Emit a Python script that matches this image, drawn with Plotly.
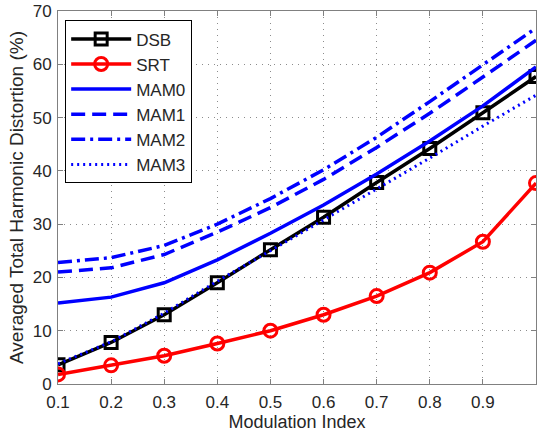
import plotly.graph_objects as go

mod_index = [0.1, 0.2, 0.3, 0.4, 0.5, 0.6, 0.7, 0.8, 0.9, 1.0]
dsb = [3.6, 7.8, 13.0, 19.0, 25.2, 31.3, 37.8, 44.2, 50.9, 57.7]
srt = [1.8, 3.5, 5.3, 7.6, 10.0, 13.0, 16.5, 20.9, 26.7, 37.7]
mam0 = [15.2, 16.3, 19.0, 23.3, 28.3, 33.6, 39.4, 45.6, 52.2, 59.5]
mam1 = [21.0, 21.8, 24.3, 28.5, 33.1, 38.4, 44.4, 50.8, 57.6, 64.5]
mam2 = [22.8, 23.7, 26.0, 30.0, 34.8, 40.2, 46.3, 53.0, 59.9, 66.8]
mam3 = [3.8, 7.9, 13.3, 19.3, 25.0, 30.8, 36.6, 42.4, 48.4, 54.2]

x_ticks = [0.1, 0.2, 0.3, 0.4, 0.5, 0.6, 0.7, 0.8, 0.9]
x_tick_labels = ["0.1", "0.2", "0.3", "0.4", "0.5", "0.6", "0.7", "0.8", "0.9"]
y_ticks = [0, 10, 20, 30, 40, 50, 60, 70]

FONT = "Liberation Sans, Arial, sans-serif"

fig = go.Figure()
fig.add_trace(go.Scatter(x=mod_index, y=dsb, name="DSB", mode="lines+markers",
                         line=dict(color="black", width=3.5),
                         marker=dict(symbol="square-open", size=12, color="black",
                                     line=dict(width=3, color="black"))))
fig.add_trace(go.Scatter(x=mod_index, y=srt, name="SRT", mode="lines+markers",
                         line=dict(color="#ff0000", width=3.5),
                         marker=dict(symbol="circle-open", size=13, color="#ff0000",
                                     line=dict(width=3, color="#ff0000"))))
fig.add_trace(go.Scatter(x=mod_index, y=mam0, name="MAM0", mode="lines",
                         line=dict(color="#0000ff", width=3.5)))
fig.add_trace(go.Scatter(x=mod_index, y=mam1, name="MAM1", mode="lines",
                         line=dict(color="#0000ff", width=3.5, dash="14px,7px")))
fig.add_trace(go.Scatter(x=mod_index, y=mam2, name="MAM2", mode="lines",
                         line=dict(color="#0000ff", width=3.5, dash="14px,5px,3px,5px")))
fig.add_trace(go.Scatter(x=mod_index, y=mam3, name="MAM3", mode="lines",
                         line=dict(color="#0000ff", width=3, dash="2px,4px")))

axis_common = dict(
    showline=True, linecolor="#808080", linewidth=1, mirror="ticks",
    ticks="inside", ticklen=5, tickcolor="#808080",
    showgrid=True, gridcolor="#8c8c8c", griddash="1px,5px", gridwidth=1,
    zeroline=False, automargin=False,
    tickfont=dict(family=FONT, size=17, color="#262626"),
)

fig.update_layout(
    width=538, height=438,
    margin=dict(l=58, r=2, t=11, b=54),
    paper_bgcolor="white", plot_bgcolor="white",
    font=dict(family=FONT, color="#262626"),
    xaxis=dict(range=[0.1, 1.0], tickvals=x_ticks, ticktext=x_tick_labels, ticklabelstandoff=3,
               title=dict(text="Modulation Index", font=dict(size=18), standoff=0),
               **axis_common),
    yaxis=dict(range=[0, 70], tickvals=y_ticks, ticklabelstandoff=2,
               title=dict(text="Averaged Total Harmonic Distortion (%)", font=dict(size=19), standoff=4),
               **axis_common),
    legend=dict(x=0.015, y=0.975, xanchor="left", yanchor="top",
                bgcolor="white", bordercolor="black", borderwidth=1,
                font=dict(size=17, color="#262626"), itemwidth=60,
                tracegroupgap=0),
    showlegend=True,
)

fig.write_html("out.html", config={"displayModeBar": False},
               post_script="document.body.style.margin='0';")
